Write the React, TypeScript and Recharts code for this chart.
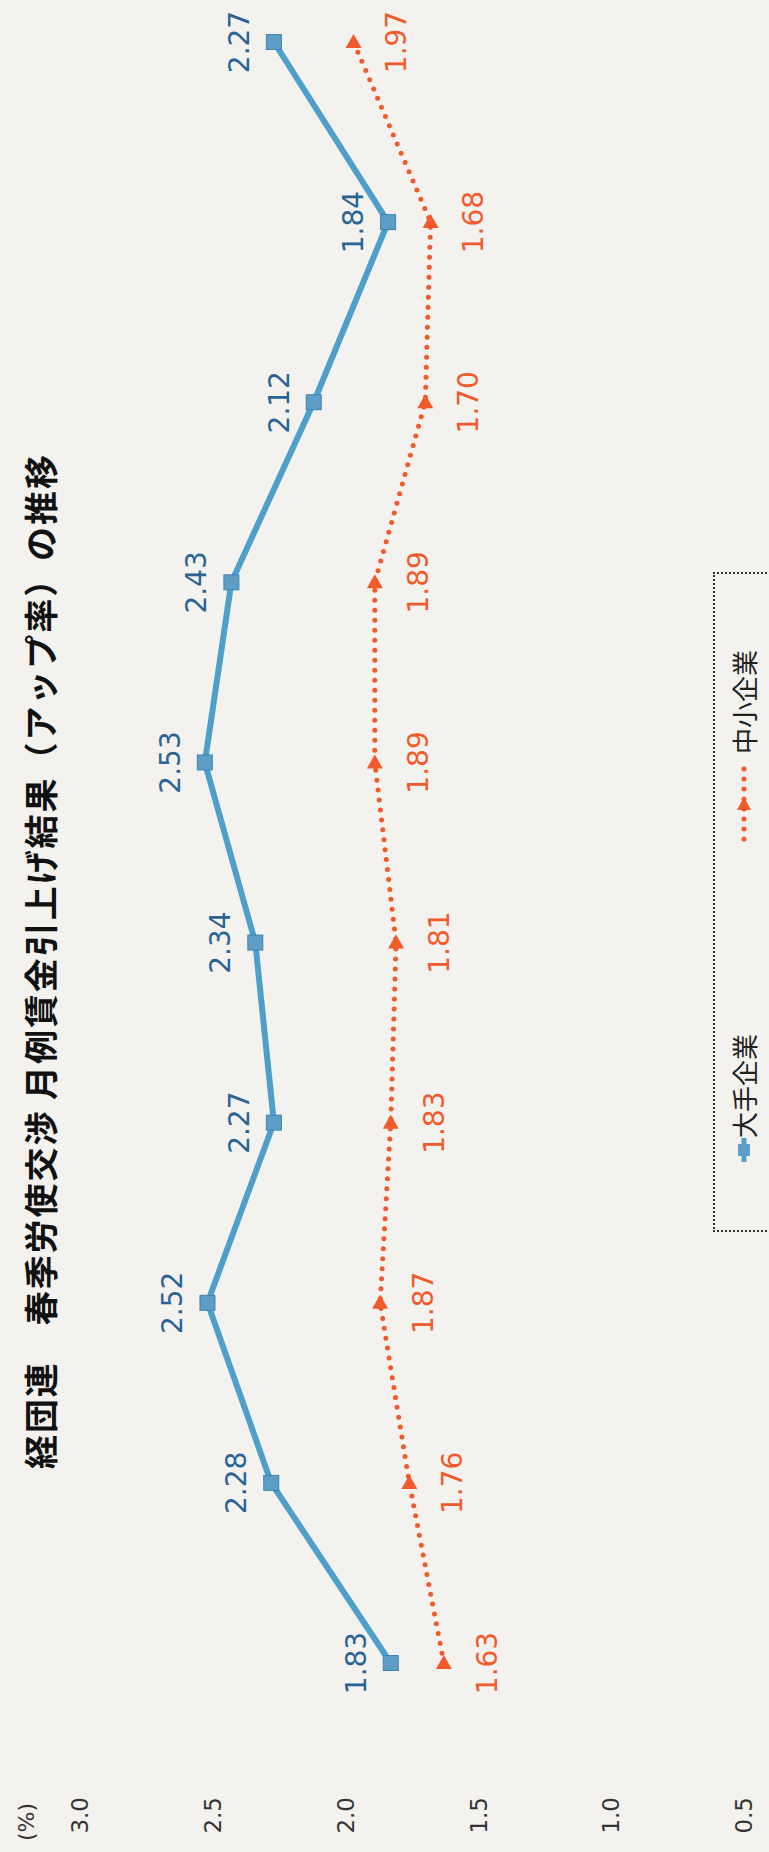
import { LineChart, Line, XAxis, YAxis, Legend, LabelList } from "recharts";

const years = ["2013", "2014", "2015", "2016", "2017", "2018", "2019", "2020", "2021", "2022"];
const largeFirms = [1.83, 2.28, 2.52, 2.27, 2.34, 2.53, 2.43, 2.12, 1.84, 2.27];
const smallFirms = [1.63, 1.76, 1.87, 1.83, 1.81, 1.89, 1.89, 1.7, 1.68, 1.97];
const yTicks = [0.5, 1, 1.5, 2, 2.5, 3];

const TITLE = "経団連\u3000春季労使交渉 月例賃金引上げ結果（アップ率）の推移";
const BLUE = "#4f9fcb";
const BLUE_TEXT = "#2a6496";
const ORANGE = "#f15a2b";
const PAPER = "#f3f2ee";
const NUM_FONT = "'DejaVu Sans', Verdana, sans-serif";
const JP_FONT = "'Noto Sans CJK JP', 'Noto Sans', sans-serif";

const data = years.map((year, i) => ({ year, large: largeFirms[i], small: smallFirms[i] }));

const SquareDot = (props: any) => {
  const { cx, cy, index } = props;
  return (
    <rect key={`sq-${index}`} x={cx - 7.5} y={cy - 7.5} width={15} height={15}
      fill="#5d9dc6" stroke="#3f85b3" strokeWidth={1} />
  );
};

// the whole figure is turned on its side, so this triangle ends up pointing "up" on the page
const TriDot = (props: any) => {
  const { cx, cy, index } = props;
  return (
    <path key={`tri-${index}`} d={`M${cx + 8},${cy} L${cx - 6},${cy - 8} L${cx - 6},${cy + 8} Z`} fill={ORANGE} />
  );
};

const LegendBox = () => (
  <div style={{
    width: 660, height: 90, boxSizing: "border-box", border: "2px dotted #333",
    background: PAPER, display: "flex", alignItems: "flex-start", paddingTop: 13, paddingLeft: 68,
    fontFamily: JP_FONT, fontSize: 26, color: "#222", whiteSpace: "nowrap",
  }}>
    <svg width={24} height={32} style={{ display: "block", flex: "none" }}>
      <line x1={0} y1={16} x2={24} y2={16} stroke={BLUE} strokeWidth={5} />
      <rect x={6} y={10} width={12} height={12} fill="#5d9dc6" />
    </svg>
    <span style={{ lineHeight: "32px" }}>大手企業</span>
    <svg width={76} height={32} style={{ display: "block", marginLeft: 192, flex: "none" }}>
      <line x1={3} y1={16} x2={74} y2={16} stroke={ORANGE} strokeWidth={5}
        strokeDasharray="0 10" strokeLinecap="round" />
      <path d="M45,16 L32,9 L32,23 Z" fill={ORANGE} />
    </svg>
    <span style={{ marginLeft: 12, lineHeight: "32px" }}>中小企業</span>
  </div>
);

export default function App() {
  return (
    <div style={{ position: "absolute", left: 0, top: 0, width: 769, height: 1852, overflow: "hidden", background: PAPER }}>
      <div style={{
        position: "absolute", left: 0, top: 0, width: 1852, height: 769,
        transformOrigin: "0 0", transform: "translateY(1852px) rotate(-90deg)",
      }}>
        <LineChart width={1852} height={769} data={data} margin={{ top: 80, right: 10, bottom: 25, left: 0 }}>
          <text x={383} y={39} dominantBaseline="central" textLength={1014} lengthAdjust="spacing"
            fontFamily={JP_FONT} fontWeight={700} fontSize={34} fill="#111">
            {TITLE}
          </text>
          <text x={30} y={26} textAnchor="middle" dominantBaseline="central"
            fontFamily={NUM_FONT} fontSize={22} fill="#333">
            (%)
          </text>
          <XAxis dataKey="year" hide padding={{ left: 129, right: 32 }} />
          <YAxis
            domain={[0.5, 3]}
            ticks={yTicks}
            width={60}
            axisLine={false}
            tickLine={false}
            tickSize={0}
            tickMargin={5}
            tickFormatter={(v: number) => v.toFixed(1)}
            tick={{ fontSize: 23, fontFamily: NUM_FONT, fill: "#333" }}
          />
          <Legend layout="horizontal" verticalAlign="middle" content={() => <LegendBox />}
            wrapperStyle={{ left: 620, top: 713, width: 660 }} />
          <Line dataKey="large" name="大手企業" stroke={BLUE} strokeWidth={6}
            dot={SquareDot} activeDot={false} isAnimationActive={false}>
            <LabelList dataKey="large" position="top" offset={25}
              formatter={(v: any) => Number(v).toFixed(2)}
              style={{ fontSize: 28, fontFamily: NUM_FONT, fill: BLUE_TEXT }} />
          </Line>
          <Line dataKey="small" name="中小企業" stroke={ORANGE} strokeWidth={5}
            strokeDasharray="0 10" strokeLinecap="round"
            dot={TriDot} activeDot={false} isAnimationActive={false}>
            <LabelList dataKey="small" position="bottom" offset={33}
              formatter={(v: any) => Number(v).toFixed(2)}
              style={{ fontSize: 28, fontFamily: NUM_FONT, fill: ORANGE }} />
          </Line>
        </LineChart>
      </div>
    </div>
  );
}
